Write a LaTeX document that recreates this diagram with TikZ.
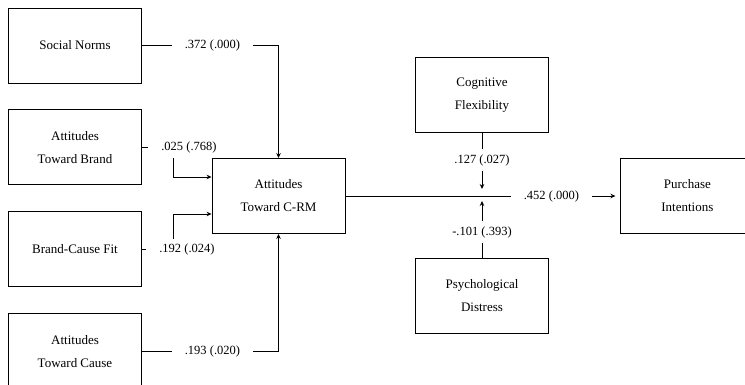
\documentclass[tikz,border=0pt]{standalone}
\usepackage{fontspec}
\setmainfont{Liberation Serif}
\usepackage{tikz}
\usetikzlibrary{arrows.meta,positioning}

\begin{document}
\begin{tikzpicture}[
    x=1pt, y=-1pt,
    node distance=26pt and 71pt,
    box/.style={draw, line width=0.9pt, minimum width=133pt, minimum height=75pt, align=center, font=\fontsize{13}{23}\selectfont},
    coef/.style={fill=white, inner xsep=13pt, inner ysep=5pt, font=\fontsize{12.5}{14}\selectfont},
    arr/.style={-{Stealth[length=5pt,width=4.5pt]}, line width=0.9pt}
  ]
    \useasboundingbox[fill=white] (0,0) rectangle (745,385);
    \node[box] (social) at (75,45.5) {Social Norms};
    \node[box, below=of social] (brand) {Attitudes\\Toward Brand};
    \node[box, below=of brand] (fit) {Brand-Cause Fit};
    \node[box, below=of fit] (cause) {Attitudes\\Toward Cause};
    \node[box] (crm) at (278.5,196) {Attitudes\\Toward C-RM};
    \node[box, right=275pt of crm] (purchase) {Purchase\\Intentions};
    \coordinate (mod) at (482,196);
    \node[box, above=63pt of mod] (cognitive) {Cognitive\\Flexibility};
    \node[box, below=62pt of mod] (distress) {Psychological\\Distress};
    \draw[arr] (social.east) -| (crm.north);
    \draw[arr] (brand.east) -- ++(31.5,0) |- ([yshift=19pt]crm.west);
    \draw[arr] (fit.east) -- ++(31.5,0) |- ([yshift=-18pt]crm.west);
    \draw[arr] (cause.east) -| (crm.south);
    \draw[arr, shorten >=5pt] (crm.east) -- (purchase.west);
    \draw[arr, shorten >=7pt] (cognitive.south) -- (mod);
    \draw[arr, shorten >=5pt] (distress.north) -- (mod);
    \node[coef] (bsocial) at ([xshift=70.5pt]social.east) {.372 (.000)};
    \node[coef] (bbrand) at ([xshift=47pt]brand.east) {.025 (.768)};
    \node[coef] (bfit) at ([xshift=45pt]fit.east) {.192 (.024)};
    \node[coef] (bcause) at ([xshift=70.5pt]cause.east) {.193 (.020)};
    \node[coef] (bpurchase) at ([xshift=-69pt]purchase.west) {.452 (.000)};
    \node[coef] (bcognitive) at ([yshift=-27pt]cognitive.south) {.127 (.027)};
    \node[coef] (bdistress) at ([yshift=26pt]distress.north) {-.101 (.393)};
  \end{tikzpicture}
\end{document}
